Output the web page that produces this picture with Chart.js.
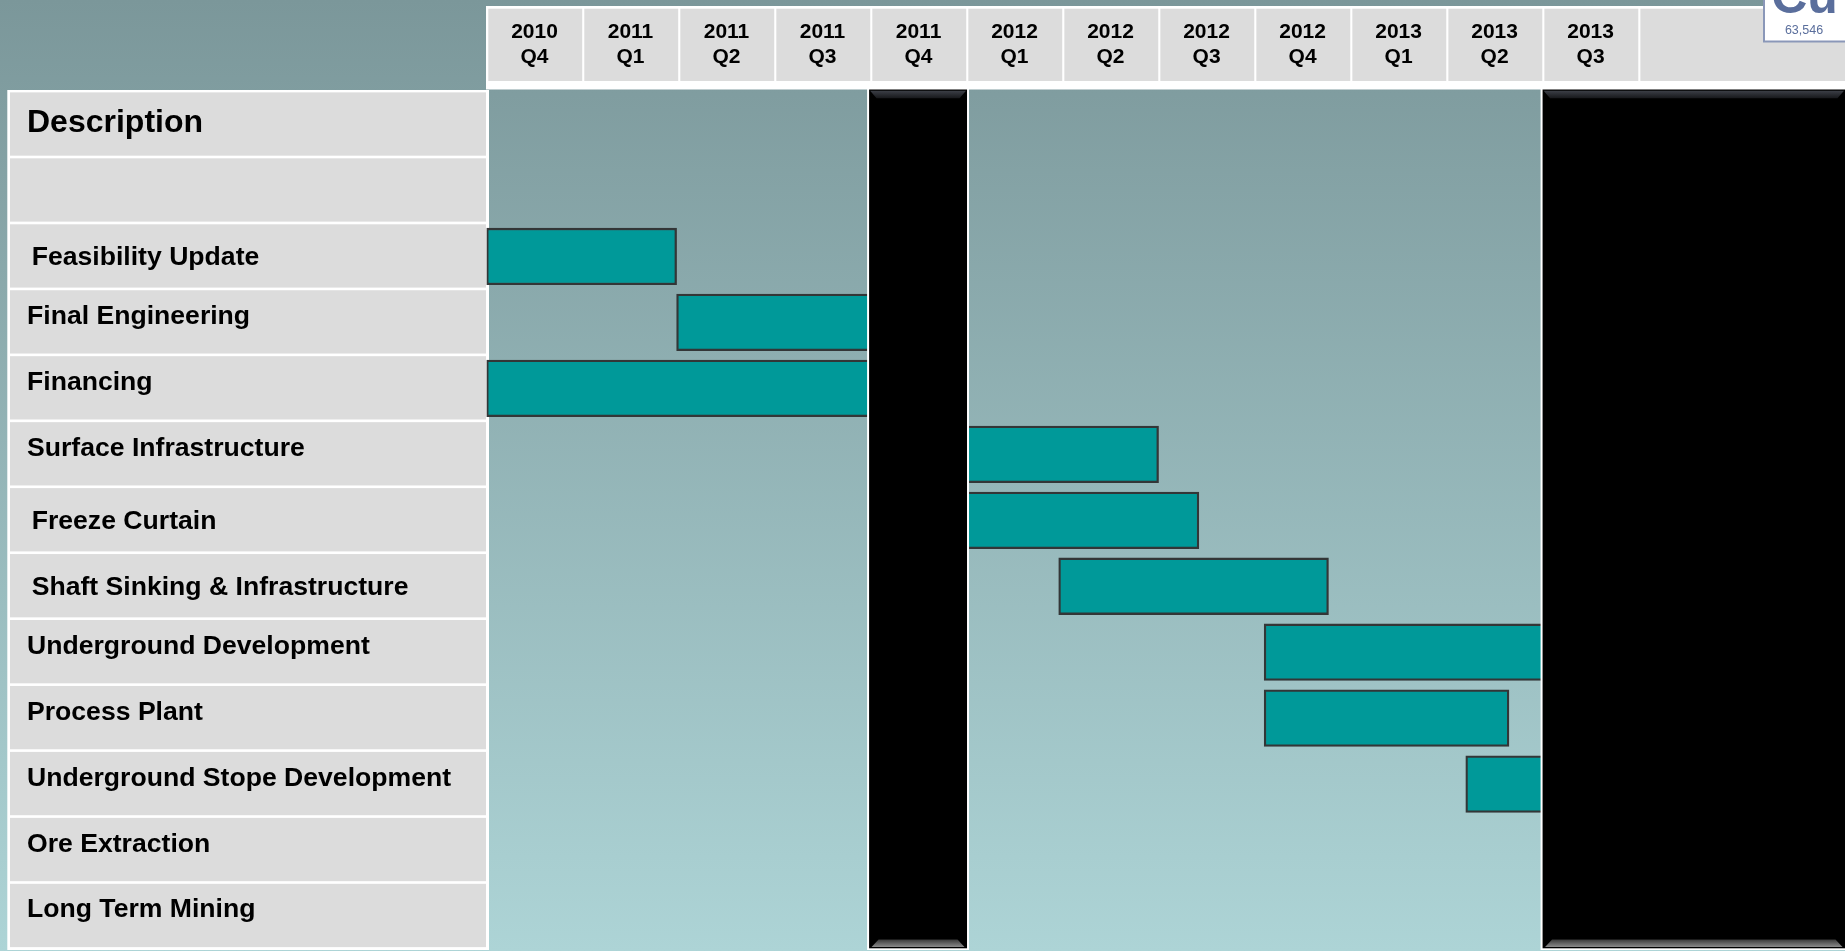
<!DOCTYPE html>
<html>
<head>
<meta charset="utf-8">
<title>Project schedule</title>
<script src="https://cdn.jsdelivr.net/npm/chart.js@4"></script>
<style>
  html, body { margin: 0; padding: 0; overflow: hidden; }
  body { width: 1845px; height: 951px; background: linear-gradient(#7b979a, #add4d6); }
  canvas { display: block; }
</style>
</head>
<body>
<canvas id="schedule" width="1845" height="951"></canvas>
<script>
// quarters across the top
const quarters = ['2010 Q4', '2011 Q1', '2011 Q2', '2011 Q3', '2011 Q4', '2012 Q1', '2012 Q2',
  '2012 Q3', '2012 Q4', '2013 Q1', '2013 Q2', '2013 Q3'];

// rows, first two are the heading and an empty row
const tasks = ['Description', '', 'Feasibility Update', 'Final Engineering', 'Financing',
  'Surface Infrastructure', 'Freeze Curtain', 'Shaft Sinking & Infrastructure',
  'Underground Development', 'Process Plant', 'Underground Stope Development',
  'Ore Extraction', 'Long Term Mining'];

// start and end of each task, in quarters counted from the start of 2010 Q4
const taskStart = [null, null, 0, 1.98, 0, 4.9, 4.9, 5.96, 8.1, 8.1, 10.2, null, null];
const taskEnd = [null, null, 1.98, 4.1, 4.1, 7.0, 7.42, 8.77, 11.1, 10.65, 11.1, null, null];

// black periods, same units
const blackStart = [3.985, 11.0];
const blackEnd = [5.005, 14.15];

// the labels don't sit evenly in their rows in the original
const labelShiftX = [0, 0, 4.7, 0, 0, 0, 4.7, 4.7, 0, 0, 0, 0, 0];
const labelShiftY = [-1.6, 0, 1.5, -5.8, -5.8, -5.8, 1.3, 1.3, -5.8, -5.8, -5.6, -5.9, -6.8];

const fontName = '"Liberation Sans", Arial, sans-serif';
const cellColor = '#dcdcdc';

const scheduleCells = {
  id: 'scheduleCells',
  afterLayout(chart) {
    // nudge the row labels after the axis worked out where they go
    chart.scales.y.getLabelItems().forEach((item, i) => {
      const t = item.options.translation;
      item.options.translation = [t[0] + labelShiftX[i], t[1] + labelShiftY[i]];
    });
  },
  beforeDraw(chart) {
    const { ctx, scales: { x, y } } = chart;
    ctx.save();

    // header strip
    ctx.fillStyle = '#fff';
    ctx.fillRect(486, 6, 1359, 83.5);
    ctx.fillStyle = cellColor;
    for (let i = 0; i <= quarters.length; i++) {
      const left = x.getPixelForValue(i) + 1.8;
      const right = i === quarters.length ? 1845 : x.getPixelForValue(i + 1) - 0.3;
      ctx.fillRect(left, 8.7, right - left, 72.3);
    }

    // left column
    ctx.fillStyle = '#fff';
    ctx.fillRect(7.3, 90, 481.7, 860);
    ctx.fillStyle = cellColor;
    tasks.forEach((t, i) => {
      ctx.fillRect(10, y.getPixelForValue(i) - 32.2, 476, 63.3);
    });
    ctx.restore();
  },
  afterDatasetsDraw(chart) {
    const { ctx, scales: { x } } = chart;
    ctx.save();
    blackStart.forEach((s, i) => {
      const left = x.getPixelForValue(s);
      const right = x.getPixelForValue(blackEnd[i]);

      ctx.fillStyle = '#fff';
      ctx.fillRect(left - 2, 89, right - left + 4, 861);
      ctx.fillStyle = '#000';
      ctx.fillRect(left, 89.5, right - left, 858.8);

      // bevel along the top
      let g = ctx.createLinearGradient(0, 90.7, 0, 98.3);
      g.addColorStop(0, '#3c3f47');
      g.addColorStop(1, '#17181b');
      ctx.fillStyle = g;
      ctx.beginPath();
      ctx.moveTo(left + 1, 90.7);
      ctx.lineTo(right - 1, 90.7);
      ctx.lineTo(right - 7.5, 98.3);
      ctx.lineTo(left + 7.5, 98.3);
      ctx.closePath();
      ctx.fill();

      // and along the bottom
      g = ctx.createLinearGradient(0, 939.5, 0, 947);
      g.addColorStop(0, '#3a3a3a');
      g.addColorStop(1, '#8a8a8a');
      ctx.fillStyle = g;
      ctx.beginPath();
      ctx.moveTo(left + 9.5, 939.5);
      ctx.lineTo(right - 9.5, 939.5);
      ctx.lineTo(right - 2.5, 947);
      ctx.lineTo(left + 2.5, 947);
      ctx.closePath();
      ctx.fill();
    });
    ctx.restore();
  },
  afterDraw(chart) {
    // copper tile from the slide, cut off by the top edge
    const { ctx } = chart;
    ctx.save();
    ctx.fillStyle = '#8a97b8';
    ctx.fillRect(1763, 0, 82, 42.5);
    ctx.fillStyle = '#fff';
    ctx.fillRect(1765, 0, 80, 40.5);
    ctx.fillStyle = '#5a6e9c';
    ctx.textAlign = 'center';
    ctx.textBaseline = 'alphabetic';
    ctx.font = 'bold 50px ' + fontName;
    ctx.fillText('Cu', 1804.5, 13);
    ctx.font = '12.5px ' + fontName;
    ctx.fillText('63,546', 1804, 34);
    ctx.restore();
  }
};

new Chart(document.getElementById('schedule'), {
  type: 'bar',
  data: {
    labels: tasks,
    datasets: [{
      data: taskStart.map((s, i) => (s === null ? null : [s, taskEnd[i]])),
      backgroundColor: '#009999',
      borderColor: '#333637',
      borderWidth: 2.3,
      borderSkipped: false,
      barThickness: 56.6
    }]
  },
  options: {
    indexAxis: 'y',
    responsive: false,
    animation: false,
    layout: { padding: { left: 27, right: 0, top: 0, bottom: 2 } },
    plugins: { legend: { display: false }, tooltip: { enabled: false } },
    scales: {
      x: {
        type: 'linear',
        position: 'top',
        min: 0,
        max: 14.15,
        border: { display: false },
        grid: { display: false, drawTicks: false },
        afterBuildTicks(axis) {
          axis.ticks = quarters.map((q, i) => ({ value: i + 0.5 }));
        },
        afterFit(axis) { axis.height = 91.6; },
        ticks: {
          autoSkip: false,
          maxRotation: 0,
          padding: 22,
          color: '#000',
          font: { family: fontName, size: 21, weight: 'bold' },
          callback: (value, i) => quarters[i].split(' ')
        }
      },
      y: {
        type: 'category',
        border: { display: false },
        grid: { display: false, drawTicks: false },
        afterFit(axis) {
          axis.width = 459.5;
          // the first and last label must not shrink the plot
          axis.paddingTop = 0;
          axis.paddingBottom = 0;
        },
        ticks: {
          autoSkip: false,
          crossAlign: 'far',
          padding: 0,
          color: '#000',
          font: (c) => ({ family: fontName, size: c.index === 0 ? 32 : 26.6, weight: 'bold' })
        }
      }
    }
  },
  plugins: [scheduleCells]
});
</script>
</body>
</html>
